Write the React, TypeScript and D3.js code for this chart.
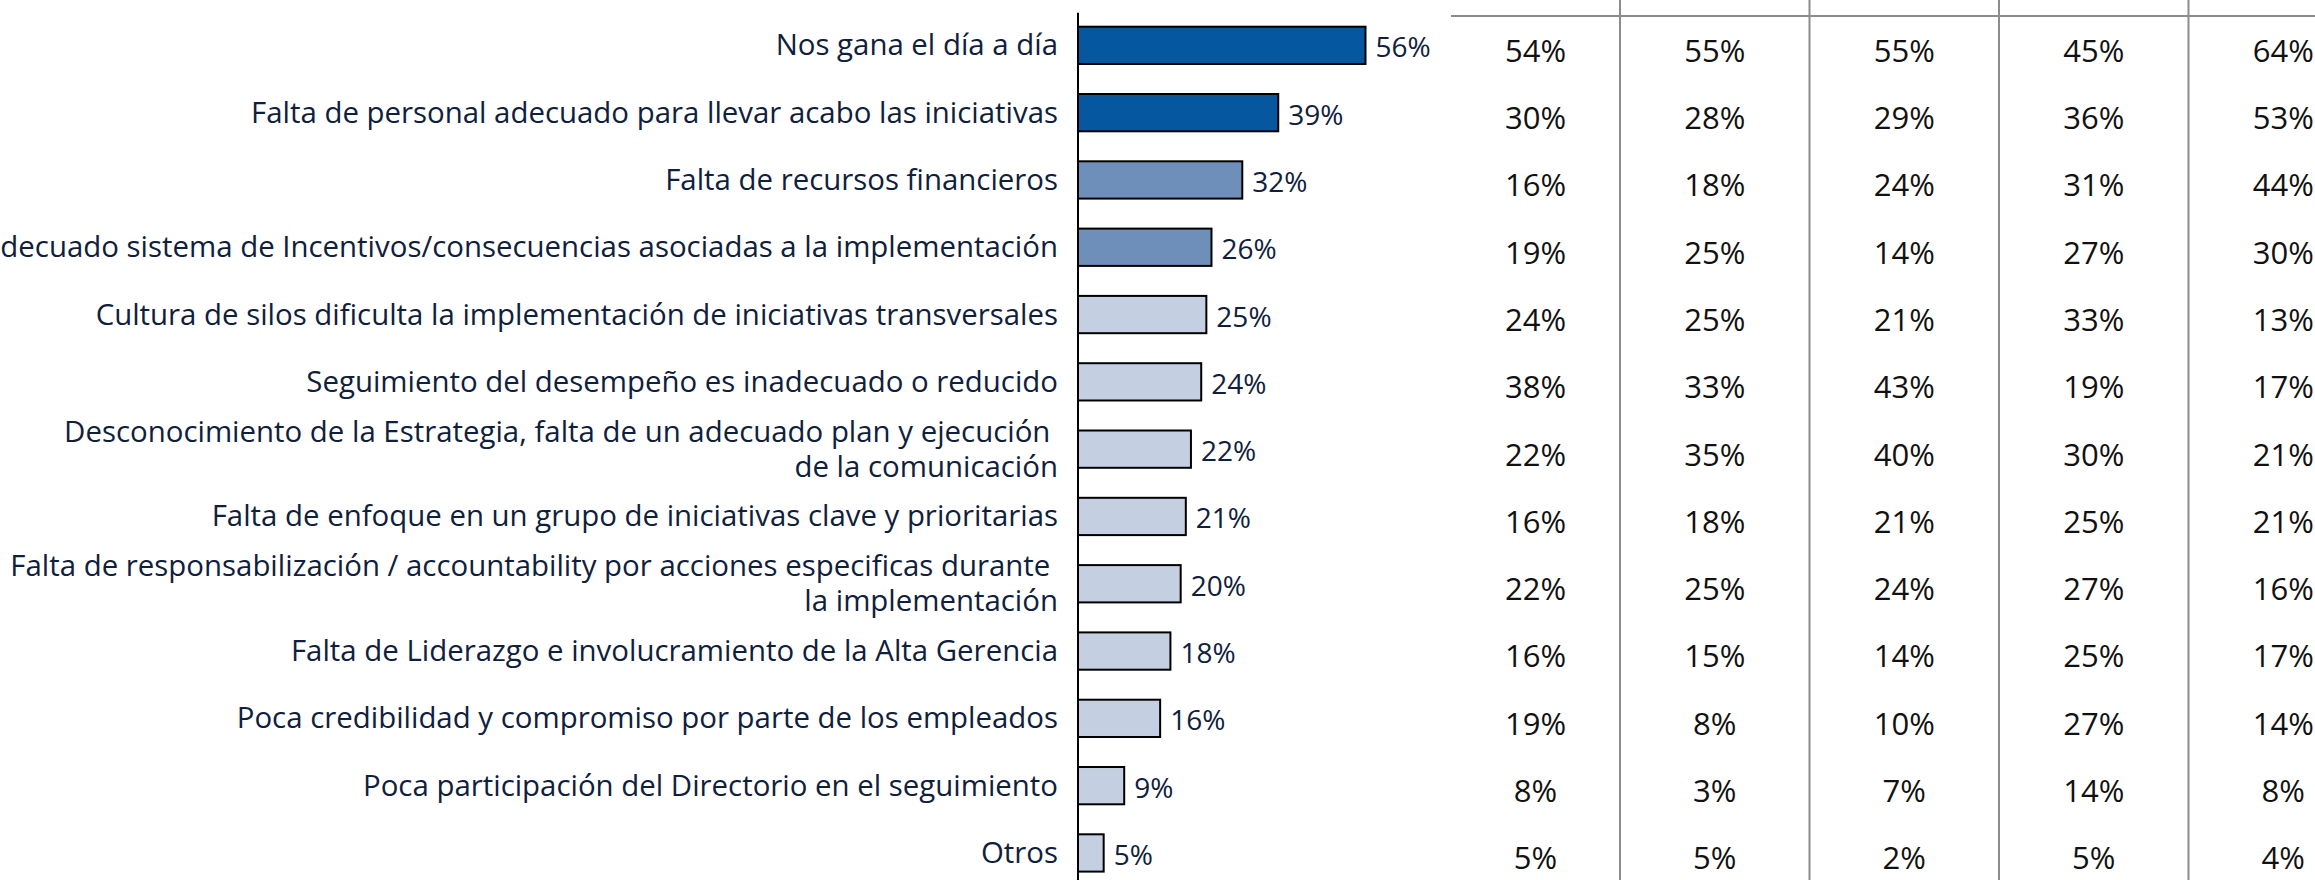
import React, { useEffect } from 'react';
import * as d3 from 'd3';

// causes, top to bottom (a "\n" splits a label in two lines)
const categories = [
  'Nos gana el día a día',
  'Falta de personal adecuado para llevar acabo las iniciativas',
  'Falta de recursos financieros',
  'Inadecuado sistema de Incentivos/consecuencias asociadas a la implementación',
  'Cultura de silos dificulta la implementación de iniciativas transversales',
  'Seguimiento del desempeño es inadecuado o reducido',
  'Desconocimiento de la Estrategia, falta de un adecuado plan y ejecución \nde la comunicación',
  'Falta de enfoque en un grupo de iniciativas clave y prioritarias',
  'Falta de responsabilización / accountability por acciones especificas durante \nla implementación',
  'Falta de Liderazgo e involucramiento de la Alta Gerencia',
  'Poca credibilidad y compromiso por parte de los empleados',
  'Poca participación del Directorio en el seguimiento',
  'Otros',
];

const totals = [56, 39, 32, 26, 25, 24, 22, 21, 20, 18, 16, 9, 5];
// 0 = dark, 1 = medium, 2 = light
const tiers = [0, 0, 1, 1, 2, 2, 2, 2, 2, 2, 2, 2, 2];

const col1 = [54, 30, 16, 19, 24, 38, 22, 16, 22, 16, 19, 8, 5];
const col2 = [55, 28, 18, 25, 25, 33, 35, 18, 25, 15, 8, 3, 5];
const col3 = [55, 29, 24, 14, 21, 43, 40, 21, 24, 14, 10, 7, 2];
const col4 = [45, 36, 31, 27, 33, 19, 30, 25, 27, 25, 27, 14, 5];
const col5 = [64, 53, 44, 30, 13, 17, 21, 21, 16, 17, 14, 8, 4];
const columns = [col1, col2, col3, col4, col5];

const tierColors = ['#0557a0', '#6f8fbb', '#c4cfe2'];

const W = 2315;
const H = 880;
const FONT = '"Open Sans", "Noto Sans", sans-serif';

const App = () => {
  useEffect(() => {
    document.body.style.margin = '0';
  }, []);

  const axisX = 1078;
  const x = d3.scaleLinear().domain([0, 56]).range([axisX, 1365.5]);
  const y = d3
    .scaleBand<number>()
    .domain(d3.range(categories.length))
    .range([11.7, 886.6])
    .paddingInner(0.446)
    .paddingOuter(0.223);

  // table column borders
  const tableLeft = 1451;
  const divider = d3.scaleLinear().domain([1, 4]).range([1620, 2188.5]);
  const step = divider(2) - divider(1);
  const bounds = [tableLeft, divider(1), divider(2), divider(3), divider(4), divider(4) + step];
  const centers = columns.map((_, i) => (bounds[i] + bounds[i + 1]) / 2);

  return (
    <svg width={W} height={H} style={{ display: 'block', position: 'absolute', left: 0, top: 0 }}>
      <rect width={W} height={H} fill="#fff" />

      {/* labels */}
      {categories.map((c, i) => {
        const cy = y(i)! + y.bandwidth() / 2;
        const lines = c.split('\n');
        return (
          <text
            key={'l' + i}
            x={1058}
            textAnchor="end"
            fontFamily={FONT}
            fontSize={29.4}
            fill="#0f203d"
            style={{ whiteSpace: 'pre' }}
          >
            {lines.length === 1 ? (
              <tspan x={1058} y={cy + 10}>{c}</tspan>
            ) : (
              lines.map((ln, j) => (
                <tspan key={j} x={1058} y={cy - 7.5 + j * 35}>
                  {ln}
                </tspan>
              ))
            )}
          </text>
        );
      })}

      {/* bars */}
      {totals.map((v, i) => (
        <rect
          key={'b' + i}
          x={x(0)}
          y={y(i)}
          width={x(v) - x(0)}
          height={y.bandwidth()}
          fill={tierColors[tiers[i]]}
          stroke="#000"
          strokeWidth={2}
        />
      ))}
      {totals.map((v, i) => (
        <text
          key={'v' + i}
          x={x(v) + 10}
          y={y(i)! + y.bandwidth() / 2 + 12}
          fontFamily={FONT}
          fontSize={28}
          fill="#0f203d"
        >
          {v}%
        </text>
      ))}
      <line x1={axisX} x2={axisX} y1={12.7} y2={H} stroke="#000" strokeWidth={2} />

      {/* table */}
      <line x1={tableLeft} x2={W} y1={16} y2={16} stroke="#8c8c8c" strokeWidth={2} />
      {bounds.slice(1, 5).map((bx, i) => (
        <line key={'d' + i} x1={bx} x2={bx} y1={0} y2={H} stroke="#8c8c8c" strokeWidth={2} />
      ))}
      {columns.map((col, ci) =>
        col.map((v, i) => (
          <text
            key={'t' + ci + '-' + i}
            x={centers[ci]}
            y={y(i)! + y.bandwidth() / 2 + 16.4}
            textAnchor="middle"
            fontFamily={FONT}
            fontSize={31}
            fill="#111"
          >
            {v}%
          </text>
        ))
      )}
    </svg>
  );
};

export default App;
